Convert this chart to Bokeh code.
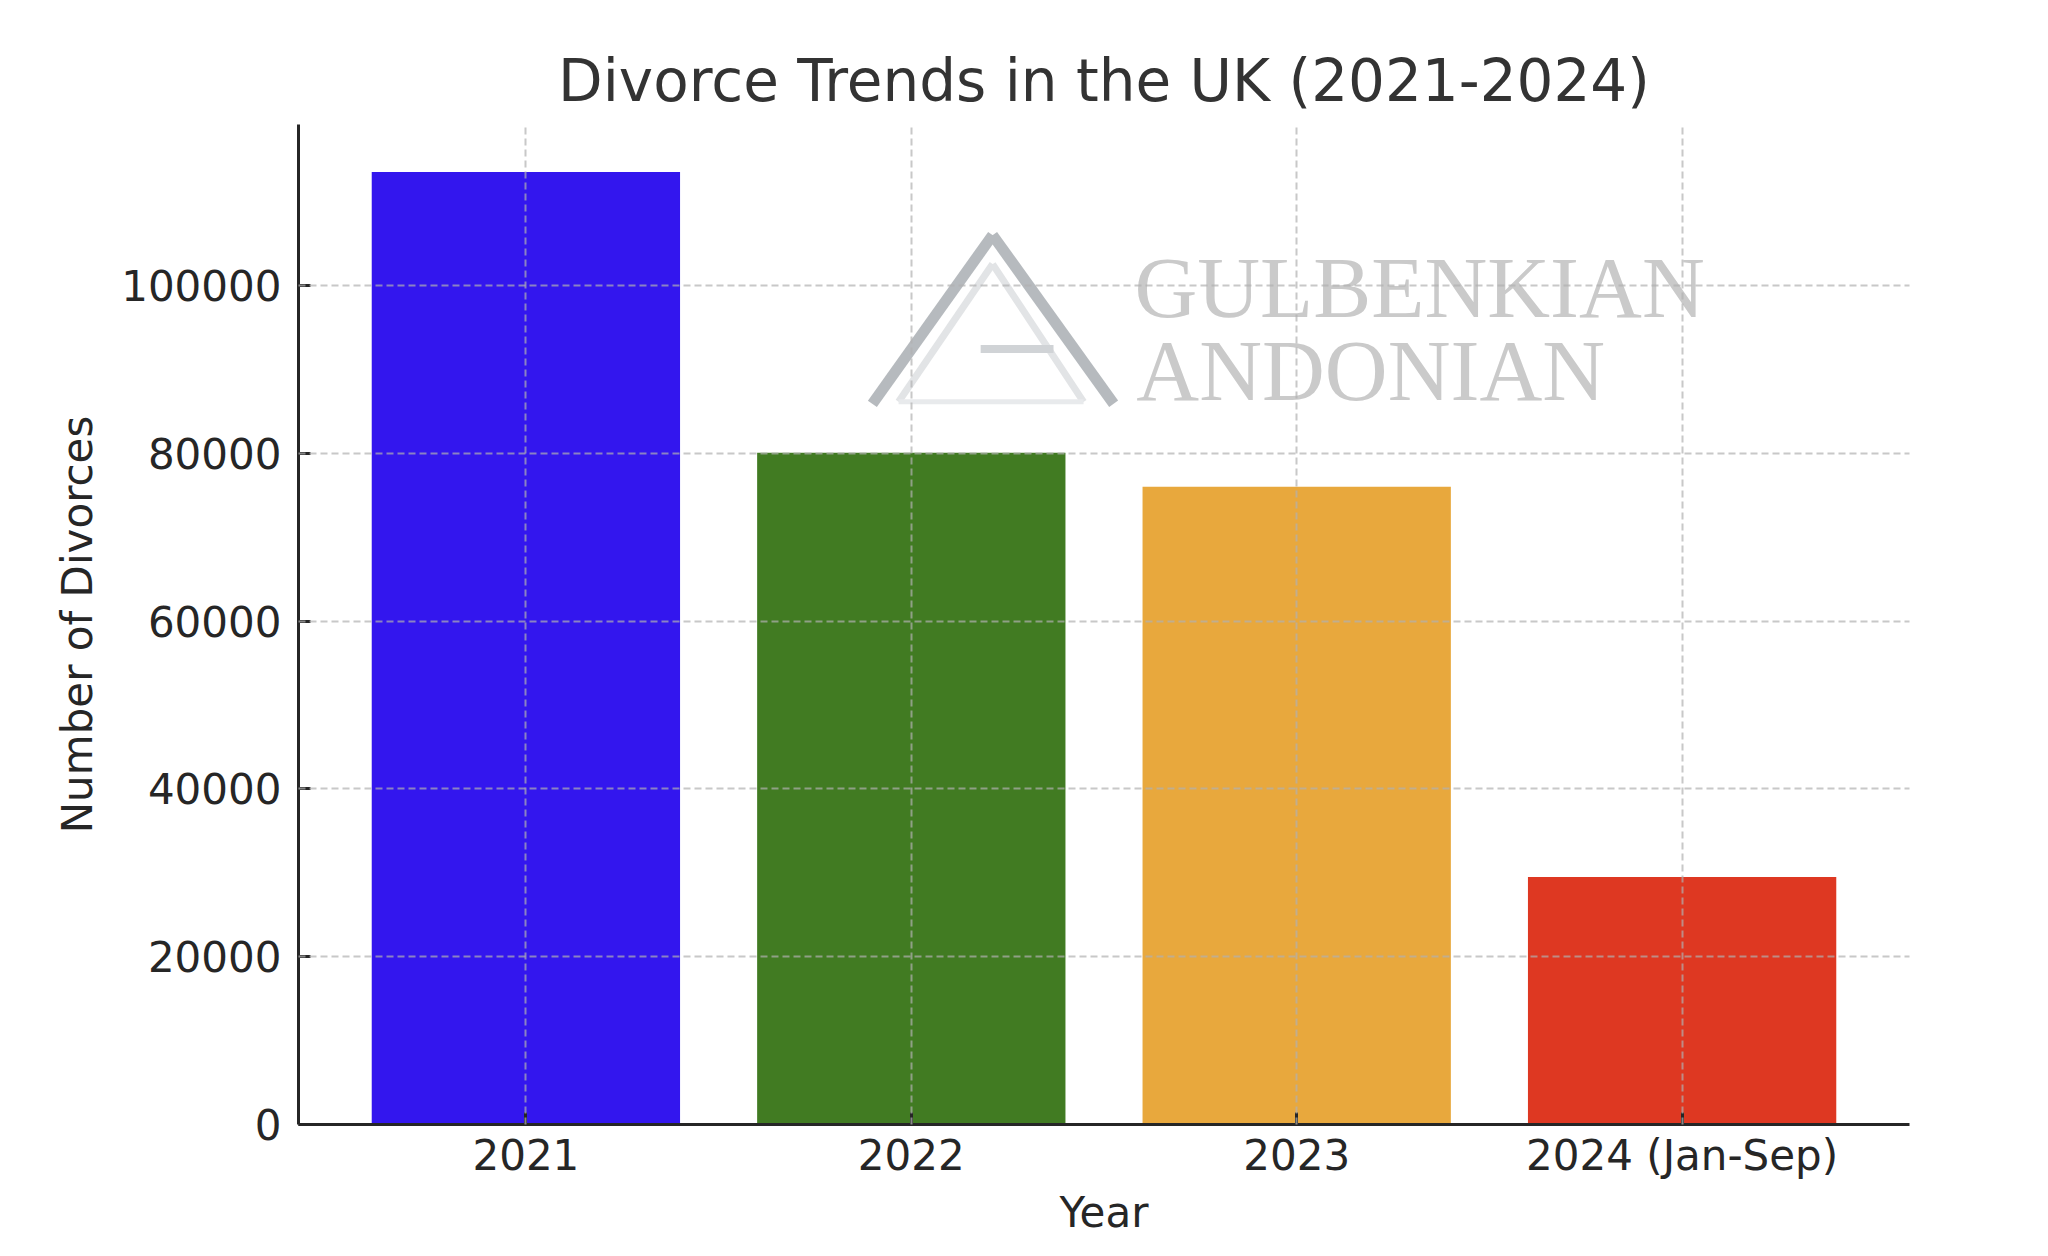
from bokeh.plotting import figure
from bokeh.models import FactorRange, Range1d, ColumnDataSource, NumeralTickFormatter, FixedTicker, Label
from bokeh.embed import file_html
from bokeh.resources import INLINE

# ---- data ----
years = ["2021", "2022", "2023", "2024 (Jan-Sep)"]
divorces = [113505, 80057, 76000, 29500]
bar_colors = ["#3316EE", "#417B22", "#E8A83D", "#DE3822"]
y_ticks = [0, 20000, 40000, 60000, 80000, 100000]

TXT = "#262626"
FONT = "DejaVu Sans"

src = ColumnDataSource(dict(year=years, n=divorces, color=bar_colors))

p = figure(
    width=2040, height=1250,
    x_range=FactorRange(factors=years, range_padding=0.045, range_padding_units="percent"),
    y_range=Range1d(0, max(divorces) * 1.05),
    output_backend="svg", toolbar_location=None,
    min_border_left=298, min_border_top=124, min_border_right=131, min_border_bottom=126,
)
p.outline_line_color = None
p.background_fill_color = "white"
p.border_fill_color = "white"

p.vbar(x="year", top="n", width=0.8, color="color", line_color=None, source=src)

# title
p.title.text = "Divorce Trends in the UK (2021-2024)"
p.title.align = "center"
p.title.text_font = FONT
p.title.text_font_size = "58px"
p.title.text_font_style = "normal"
p.title.text_color = "#333333"
p.title.standoff = 20

# axes
for ax in (p.xaxis, p.yaxis):
    ax.axis_line_width = 3
    ax.axis_line_color = TXT
    ax.major_tick_line_width = 3
    ax.major_tick_line_color = TXT
    ax.major_tick_in = 12
    ax.major_tick_out = 0
    ax.minor_tick_line_color = None
    ax.major_label_text_font = FONT
    ax.major_label_text_font_size = "42px"
    ax.major_label_text_color = TXT
    ax.axis_label_text_font = FONT
    ax.axis_label_text_font_size = "42px"
    ax.axis_label_text_font_style = "normal"
    ax.axis_label_text_color = TXT

p.xaxis.axis_label = "Year"
p.xaxis.major_label_standoff = 6
p.xaxis.axis_label_standoff = 5
p.yaxis.axis_label = "Number of Divorces"
p.yaxis.major_label_standoff = 17
p.yaxis.axis_label_standoff = 16
p.yaxis.ticker = FixedTicker(ticks=y_ticks)
p.yaxis.formatter = NumeralTickFormatter(format="0")

# grid (dashed, drawn over bars)
for g in (p.xgrid, p.ygrid):
    g.grid_line_color = "#b0b0b0"
    g.grid_line_alpha = 0.7
    g.grid_line_width = 2
    g.grid_line_dash = "7 4"
    g.level = "overlay"
p.ygrid.ticker = FixedTicker(ticks=y_ticks[1:])

# ---- watermark (decoration) ----
logo = ColumnDataSource(dict(
    x0=[1.399, 1.711, 1.467, 1.711, 1.467, 1.680],
    y0=[85891, 105996, 86129, 102546, 86129, 92434],
    x1=[1.711, 2.025, 1.711, 1.947, 1.947, 1.869],
    y1=[105996, 85891, 102546, 86129, 86129, 92434],
    c=["#b6babe", "#b6babe", "#e2e4e6", "#e2e4e6", "#e8eaec", "#d0d3d6"],
    w=[11, 11, 7, 7, 5, 8],
))
p.segment(x0="x0", y0="y0", x1="x1", y1="y1", line_color="c", line_width="w", source=logo)

for txt, xx, yy in (("GULBENKIAN", 2.079, 99810), ("ANDONIAN", 2.084, 89820)):
    p.add_layout(Label(x=xx, y=yy, text=txt, text_font="Liberation Serif",
                       text_font_size="87px", text_color="#cacaca",
                       text_baseline="alphabetic", text_align="left"))

open("out.html", "w").write(file_html(p, INLINE))
